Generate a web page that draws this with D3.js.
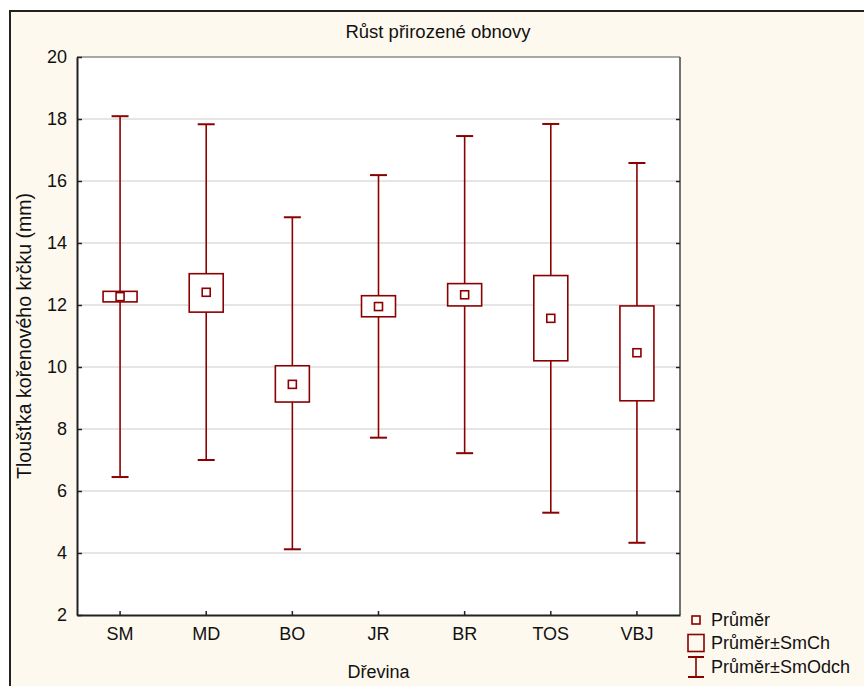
<!DOCTYPE html>
<html>
<head>
<meta charset="utf-8">
<script src="https://cdn.jsdelivr.net/npm/d3@7"></script>
<style>
  html, body { margin: 0; padding: 0; background: #ffffff; }
  svg { display: block; font-family: "Liberation Sans", Arial, sans-serif; }
</style>
</head>
<body>
<svg id="chart" width="864" height="686"></svg>
<script>
// ---- data ----
const categories = ["SM", "MD", "BO", "JR", "BR", "TOS", "VBJ"];
const meanValues = [12.27, 12.41, 9.44, 11.95, 12.33, 11.57, 10.46];
const seLow      = [12.10, 11.77, 8.87, 11.62, 11.97, 10.20, 8.91];
const seHigh     = [12.44, 13.01, 10.04, 12.30, 12.69, 12.95, 11.97];
const sdLow      = [6.45, 7.00, 4.12, 7.72, 7.22, 5.30, 4.33];
const sdHigh     = [18.09, 17.83, 14.83, 16.19, 17.45, 17.84, 16.58];
const yTicks     = [2, 4, 6, 8, 10, 12, 14, 16, 18, 20];
const legendLabels = ["Průměr", "Průměr±SmCh", "Průměr±SmOdch"];
const titleText  = "Růst přirozené obnovy";
const xTitle     = "Dřevina";
const yTitle     = "Tloušťka kořenového krčku (mm)";

// ---- layout ----
const svg = d3.select("#chart");
const red = "#8b0000";
const plot = { left: 77, right: 680, top: 57, bottom: 615 };

// frame
svg.append("rect").attr("x", 10).attr("y", 11).attr("width", 880).attr("height", 700)
  .attr("fill", "#fef9ee").attr("stroke", "#222").attr("stroke-width", 2);

const x = d3.scaleBand().domain(categories).range([plot.left, plot.right]).padding(0);
const y = d3.scaleLinear().domain([2, 20]).range([plot.bottom, plot.top]);

// plot background
svg.append("rect").attr("x", plot.left).attr("y", plot.top)
  .attr("width", plot.right - plot.left).attr("height", plot.bottom - plot.top)
  .attr("fill", "#ffffff");

// gridlines
svg.append("g").selectAll("line").data(yTicks.filter(t => t > 2 && t < 20)).join("line")
  .attr("x1", plot.left).attr("x2", plot.right)
  .attr("y1", d => y(d)).attr("y2", d => y(d))
  .attr("stroke", "#dcdcdc").attr("stroke-width", 1.5);

// borders
svg.append("line").attr("x1", plot.left).attr("x2", plot.right).attr("y1", plot.top).attr("y2", plot.top)
  .attr("stroke", "#555").attr("stroke-width", 1);
svg.append("line").attr("x1", plot.right).attr("x2", plot.right).attr("y1", plot.top).attr("y2", plot.bottom)
  .attr("stroke", "#444").attr("stroke-width", 1.5);

// left axis
const yAxis = d3.axisLeft(y).tickValues(yTicks).tickSizeInner(-5).tickSizeOuter(0).tickPadding(10);
const gy = svg.append("g").attr("transform", `translate(${plot.left},0)`).call(yAxis);
gy.select(".domain").attr("stroke", "#222").attr("stroke-width", 2);
gy.selectAll(".tick line").attr("stroke", "#222").attr("stroke-width", 1.5);
gy.selectAll(".tick text").attr("font-size", 18).attr("fill", "#111")
  .attr("font-family", "Liberation Sans, Arial, sans-serif").attr("x", -10);

// right axis ticks
const yAxisR = d3.axisRight(y).tickValues(yTicks.filter(t => t > 2 && t < 20)).tickSizeInner(-4).tickSizeOuter(0).tickFormat("");
const gyr = svg.append("g").attr("transform", `translate(${plot.right},0)`).call(yAxisR);
gyr.select(".domain").remove();
gyr.selectAll(".tick line").attr("stroke", "#222").attr("stroke-width", 1.5);

// bottom axis
const xAxis = d3.axisBottom(x).tickSizeInner(-4).tickSizeOuter(0).tickPadding(12);
const gx = svg.append("g").attr("transform", `translate(0,${plot.bottom})`).call(xAxis);
gx.select(".domain").attr("stroke", "#222").attr("stroke-width", 2);
gx.selectAll(".tick line").attr("stroke", "#222").attr("stroke-width", 1.5);
gx.selectAll(".tick text").attr("font-size", 18).attr("fill", "#111")
  .attr("font-family", "Liberation Sans, Arial, sans-serif");

// marks
const rows = categories.map((c, i) => ({ c, m: meanValues[i], sl: seLow[i], sh: seHigh[i], dl: sdLow[i], dh: sdHigh[i] }));
const cx = d => x(d.c) + x.bandwidth() / 2;
const boxW = 34, capW = 17, meanS = 8;
const g = svg.append("g").attr("stroke", red).attr("stroke-width", 1.6).attr("fill", "none");
const grp = g.selectAll("g").data(rows).join("g");
grp.append("line").attr("x1", cx).attr("x2", cx).attr("y1", d => y(d.dh)).attr("y2", d => y(d.sh));
grp.append("line").attr("x1", cx).attr("x2", cx).attr("y1", d => y(d.sl)).attr("y2", d => y(d.dl));
grp.append("line").attr("x1", d => cx(d) - capW / 2).attr("x2", d => cx(d) + capW / 2)
  .attr("y1", d => y(d.dh)).attr("y2", d => y(d.dh)).attr("stroke-width", 2);
grp.append("line").attr("x1", d => cx(d) - capW / 2).attr("x2", d => cx(d) + capW / 2)
  .attr("y1", d => y(d.dl)).attr("y2", d => y(d.dl)).attr("stroke-width", 2);
grp.append("rect").attr("x", d => cx(d) - boxW / 2).attr("width", boxW)
  .attr("y", d => y(d.sh)).attr("height", d => y(d.sl) - y(d.sh)).attr("fill", "#fff");
grp.append("rect").attr("x", d => cx(d) - meanS / 2).attr("width", meanS)
  .attr("y", d => y(d.m) - meanS / 2).attr("height", meanS).attr("fill", "#fff");

// titles
svg.append("text").attr("x", 438).attr("y", 38).attr("text-anchor", "middle")
  .attr("font-size", 18.5).attr("fill", "#111").text(titleText);
svg.append("text").attr("x", (plot.left + plot.right) / 2).attr("y", 678).attr("text-anchor", "middle")
  .attr("font-size", 18).attr("fill", "#111").text(xTitle);
svg.append("text").attr("transform", `translate(31,${(plot.top + plot.bottom) / 2}) rotate(-90)`)
  .attr("text-anchor", "middle").attr("font-size", 19.5).attr("fill", "#111").text(yTitle);

// legend
const lg = svg.append("g");
const lx = 696, ly = [620, 643, 667], tx = 711;
lg.append("rect").attr("x", lx - 4).attr("y", ly[0] - 4).attr("width", 8).attr("height", 8)
  .attr("fill", "none").attr("stroke", red).attr("stroke-width", 1.6);
lg.append("rect").attr("x", lx - 8).attr("y", ly[1] - 8.5).attr("width", 16).attr("height", 17)
  .attr("fill", "none").attr("stroke", red).attr("stroke-width", 1.6);
lg.append("line").attr("x1", lx).attr("x2", lx).attr("y1", ly[2] - 10).attr("y2", ly[2] + 10)
  .attr("stroke", red).attr("stroke-width", 1.6);
lg.append("line").attr("x1", lx - 8).attr("x2", lx + 8).attr("y1", ly[2] - 10).attr("y2", ly[2] - 10)
  .attr("stroke", red).attr("stroke-width", 2);
lg.append("line").attr("x1", lx - 8).attr("x2", lx + 8).attr("y1", ly[2] + 10).attr("y2", ly[2] + 10)
  .attr("stroke", red).attr("stroke-width", 2);
lg.selectAll("text").data(legendLabels).join("text")
  .attr("x", tx).attr("y", (d, i) => ly[i] + 6).attr("font-size", 18).attr("fill", "#111").text(d => d);
</script>
</body>
</html>
